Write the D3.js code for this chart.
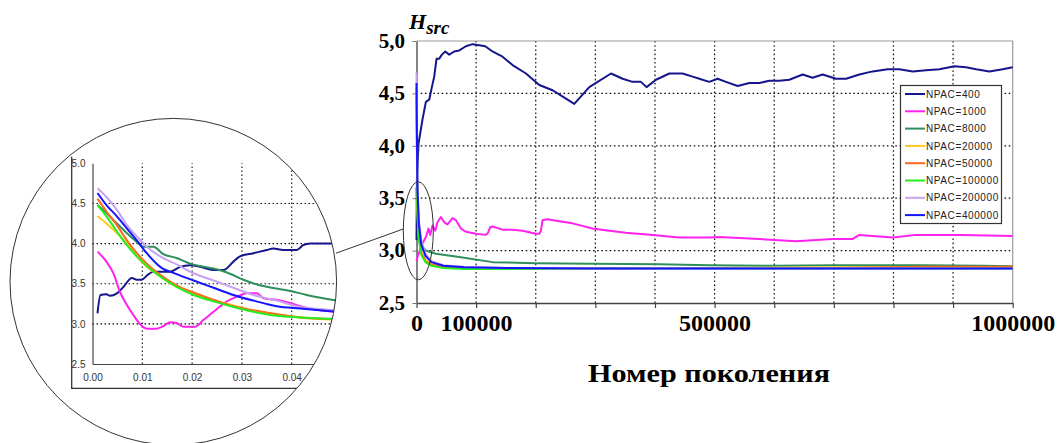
<!DOCTYPE html>
<html><head><meta charset="utf-8">
<script src="https://cdn.jsdelivr.net/npm/d3@7"></script>
<style>body{margin:0;background:#fff;} svg{display:block;}
.ser{font-family:"Liberation Serif","Times New Roman",Times,serif;}
.san{font-family:"Liberation Sans",Arial,Helvetica,sans-serif;}
</style>
</head><body>
<svg id="c" width="1058" height="443"></svg>
<script>
// ---------------- DATA ----------------
const seriesNames = ["NPAC=400","NPAC=1000","NPAC=8000","NPAC=20000","NPAC=50000","NPAC=100000","NPAC=200000","NPAC=400000"];
const yTickValues = [2.5, 3.0, 3.5, 4.0, 4.5, 5.0];
const xTickValues = [0,100000,200000,300000,400000,500000,600000,700000,800000,900000,1000000];
const xLabelValues = [0, 100000, 500000, 1000000];
const xTitle = "Номер поколения";

// main chart (generation number → H_src)
const npac400X = [0,800,3400,10000,15800,21300,25800,29700,33600,38100,42600,48200,54900,63300,71700,82900,94000,105200,115300,127500,144300,161100,183600,205900,228200,250700,264600,289800,326200,345700,362400,376500,385900,401700,424000,446300,463100,474400,491100,505000,519100,538600,558200,575000,591800,608600,625300,647700,664400,681200,703700,720500,742800,765100,790300,809900,832200,854700,877000,902200,921800,938600,960900,983200,1000000];
const npac400Y = [3.10,3.70,4.02,4.25,4.42,4.44,4.56,4.66,4.83,4.83,4.87,4.90,4.87,4.90,4.91,4.95,4.97,4.96,4.95,4.90,4.85,4.77,4.69,4.58,4.53,4.45,4.40,4.56,4.69,4.64,4.61,4.61,4.56,4.63,4.69,4.69,4.66,4.64,4.61,4.64,4.61,4.57,4.60,4.60,4.62,4.62,4.63,4.68,4.65,4.68,4.64,4.64,4.68,4.71,4.73,4.73,4.71,4.72,4.73,4.76,4.75,4.73,4.71,4.73,4.75];
const npac1000X = [0,1700,10100,15800,20100,23000,26900,31400,35200,40900,46500,52000,60400,66100,74500,82900,99700,116400,120000,123200,127500,144300,161100,177900,200300,206000,208700,211400,219800,239400,261700,295300,323300,351300,396000,440800,491100,507900,575000,636600,698000,731000,742800,798700,838000,915000,1000000];
const npac1000Y = [2.90,2.94,3.07,3.13,3.21,3.15,3.24,3.19,3.27,3.32,3.27,3.25,3.31,3.29,3.21,3.18,3.16,3.15,3.17,3.22,3.23,3.20,3.20,3.19,3.16,3.16,3.19,3.29,3.30,3.28,3.26,3.21,3.19,3.17,3.15,3.125,3.125,3.13,3.11,3.09,3.11,3.11,3.15,3.125,3.15,3.15,3.14];
const npac8000X = [0,1500,4500,9000,15800,32500,71700,127500,200300,295300,407200,491100,600000,700000,850000,950000,1000000];
const npac8000Y = [3.60,3.30,3.10,3.04,3.00,2.97,2.94,2.89,2.88,2.875,2.87,2.86,2.855,2.86,2.86,2.855,2.85];
const genX = [0,1500,4000,8000,15000,25000,45000,80000,150000,300000,500000,700000,850000,1000000];
const npac20000Y  = [4.30,3.40,3.12,2.98,2.91,2.87,2.85,2.84,2.835,2.835,2.835,2.84,2.84,2.84];
const npac50000Y  = [4.55,3.45,3.14,2.98,2.90,2.865,2.845,2.835,2.83,2.83,2.835,2.835,2.845,2.845];
const npac100000Y = [4.45,3.40,3.10,2.96,2.89,2.855,2.835,2.825,2.825,2.83,2.83,2.83,2.83,2.83];
const npac200000Y = [4.70,3.65,3.30,3.09,2.97,2.90,2.86,2.845,2.835,2.83,2.83,2.83,2.83,2.83];
const npac400000Y = [4.60,3.60,3.25,3.06,2.95,2.89,2.855,2.84,2.835,2.83,2.83,2.83,2.83,2.83];

// inset (zoom of the start)
const insetXTicks = [0.00, 0.01, 0.02, 0.03, 0.04, 0.05];
const insetYTicks = [2.5, 3.0, 3.5, 4.0, 4.5, 5.0];
const in400X = [0.0010,0.0016,0.0028,0.0035,0.0049,0.0062,0.0079,0.0089,0.0099,0.0109,0.0122,0.0136,0.0156,0.0176,0.0196,0.0216,0.0243,0.0263,0.0283,0.0296,0.0323,0.0350,0.0363,0.0383,0.0410,0.0423,0.0437,0.0490];
const in400Y = [3.13,3.36,3.37,3.35,3.38,3.46,3.57,3.55,3.55,3.60,3.65,3.65,3.65,3.71,3.73,3.71,3.67,3.67,3.775,3.84,3.88,3.92,3.94,3.92,3.92,3.98,4.00,4.00];
const in1000X = [0.0010,0.0028,0.0042,0.0055,0.0069,0.0082,0.0095,0.0102,0.0109,0.0129,0.0142,0.0156,0.0169,0.0182,0.0206,0.0223,0.0243,0.0270,0.0290,0.0310,0.0330,0.0343,0.0370,0.0397,0.0423,0.0457,0.0490];
const in1000Y = [3.90,3.775,3.63,3.40,3.235,3.11,3.00,2.96,2.94,2.94,2.97,3.02,3.01,2.965,2.965,3.05,3.15,3.28,3.34,3.38,3.38,3.32,3.30,3.26,3.21,3.17,3.15];
const in8000X = [0.0010,0.0028,0.0049,0.0069,0.0089,0.0102,0.0122,0.0142,0.0169,0.0196,0.0216,0.0243,0.0270,0.0303,0.0336,0.0370,0.0397,0.0430,0.0490];
const in8000Y = [4.48,4.38,4.25,4.13,4.02,3.96,3.96,3.87,3.82,3.75,3.72,3.69,3.64,3.55,3.48,3.44,3.41,3.36,3.29];
const inGridX = [0.0010,0.0028,0.0049,0.0069,0.0089,0.0109,0.0136,0.0169,0.0203,0.0243,0.0283,0.0323,0.0370,0.0417,0.0490];
const in20000Y  = [4.34,4.25,4.13,4.00,3.84,3.71,3.59,3.46,3.37,3.29,3.23,3.16,3.12,3.08,3.05];
const in50000Y  = [4.56,4.40,4.23,4.04,3.88,3.75,3.61,3.48,3.39,3.30,3.22,3.17,3.12,3.08,3.06];
const in100000Y = [4.48,4.34,4.15,3.98,3.84,3.72,3.59,3.46,3.36,3.28,3.21,3.15,3.10,3.08,3.06];
const in200000Y = [4.69,4.58,4.42,4.23,4.09,3.96,3.84,3.74,3.63,3.54,3.45,3.36,3.29,3.21,3.17];
const in400000Y = [4.63,4.48,4.34,4.19,4.04,3.88,3.71,3.62,3.54,3.45,3.36,3.29,3.22,3.19,3.15];

// ---------------- STYLE ----------------
const colors = ["#15158c","#ff22ee","#2f8f5a","#ffc81e","#ff6a1a","#22ee22","#c8a2f0","#1414ff"];

const zip = (xs, ys) => xs.map((v, i) => [v, ys[i]]);
const mainSeries = [
  zip(npac400X, npac400Y), zip(npac1000X, npac1000Y), zip(npac8000X, npac8000Y),
  zip(genX, npac20000Y), zip(genX, npac50000Y), zip(genX, npac100000Y),
  zip(genX, npac200000Y), zip(genX, npac400000Y)
];
const insetSeries = [
  zip(in400X, in400Y), zip(in1000X, in1000Y), zip(in8000X, in8000Y),
  zip(inGridX, in20000Y), zip(inGridX, in50000Y), zip(inGridX, in100000Y),
  zip(inGridX, in200000Y), zip(inGridX, in400000Y)
];

const svg = d3.select("#c");
svg.append("rect").attr("width",1058).attr("height",443).attr("fill","#fff");

// ---------------- MAIN CHART ----------------
const x = d3.scaleLinear().domain([0, 1000000]).range([416.5, 1012.7]);
const y = d3.scaleLinear().domain([2.5, 5.0]).range([303, 41]);
const g = svg.append("g");

// grid
g.selectAll(".vg").data(xTickValues.filter(v => v > 0 && v < 1000000)).join("line")
  .attr("x1", d => x(d)).attr("x2", d => x(d)).attr("y1", y(2.5)).attr("y2", y(5))
  .attr("stroke", "#111").attr("stroke-width", 1.2).attr("stroke-dasharray", "1.6,2.6");
g.selectAll(".hg").data(yTickValues.filter(v => v > 2.5 && v < 5)).join("line")
  .attr("x1", x(0)).attr("x2", x(1000000)).attr("y1", d => y(d)).attr("y2", d => y(d))
  .attr("stroke", "#111").attr("stroke-width", 1.2).attr("stroke-dasharray", "1.6,2.6");
// border top/right
g.append("path").attr("d", `M${x(0)},${y(5)}H${x(1000000)}V${y(2.5)}`)
  .attr("fill","none").attr("stroke","#999").attr("stroke-width",1.2);

// axes
const xAxis = d3.axisBottom(x).tickValues(xTickValues).tickSize(5).tickSizeOuter(0)
  .tickFormat(d => xLabelValues.includes(d) ? String(d) : "");
const xa = g.append("g").attr("transform", `translate(0,${y(2.5)})`).call(xAxis);
xa.attr("font-family", null);
xa.select(".domain").attr("stroke","#444").attr("stroke-width",1.5);
xa.selectAll(".tick line").attr("stroke","#444").attr("stroke-width",1.2);
xa.selectAll(".tick text").attr("class","ser").attr("fill","#000").attr("font-weight","bold")
  .attr("font-size",24).attr("y",11).attr("dy","0.71em");

const yAxis = d3.axisLeft(y).tickValues(yTickValues).tickSize(4).tickSizeOuter(0)
  .tickFormat(d => d.toFixed(1).replace(".", ","));
const ya = g.append("g").attr("transform", `translate(${x(0)},0)`).call(yAxis);
ya.attr("font-family", null);
ya.select(".domain").attr("stroke","#777").attr("stroke-width",1.8);
ya.selectAll(".tick line").attr("stroke","#777");
ya.selectAll(".tick text").attr("class","ser").attr("fill","#000").attr("font-weight","bold")
  .attr("font-size",21).attr("x",-11.5).attr("dy","0.3em");

// series
const line = d3.line().x(d => x(d[0])).y(d => y(d[1]));
g.selectAll(".s").data(mainSeries).join("path")
  .attr("d", line).attr("fill","none").attr("stroke", (d,i) => colors[i])
  .attr("stroke-width", 2).attr("stroke-linejoin","round");

// y title H_src
const ht = svg.append("text").attr("class","ser").attr("x", 409).attr("y", 29)
  .attr("font-weight","bold").attr("font-style","italic");
ht.append("tspan").attr("font-size", 22).text("H");
ht.append("tspan").attr("font-size", 19).attr("dy", 5).text("src");

// x title
svg.append("text").attr("class","ser").attr("x", 709).attr("y", 382).attr("text-anchor","middle")
  .attr("font-weight","bold").attr("font-size", 25)
  .attr("textLength", 242).attr("lengthAdjust","spacingAndGlyphs").text(xTitle);

// legend
const lg = svg.append("g");
lg.append("rect").attr("x", 900.5).attr("y", 85.5).attr("width", 101).attr("height", 138)
  .attr("fill","#fff").attr("stroke","#333").attr("stroke-width",1.2);
seriesNames.forEach((name, i) => {
  const yy = 94 + i * 17.3;
  lg.append("line").attr("x1", 905).attr("x2", 925).attr("y1", yy).attr("y2", yy)
    .attr("stroke", colors[i]).attr("stroke-width", 2);
  lg.append("text").attr("class","san").attr("x", 926).attr("y", yy + 3.6)
    .attr("font-size", 10).attr("letter-spacing", 0.6).attr("fill","#222").text(name);
});

// ellipse marking zoom region + connector
svg.append("ellipse").attr("cx", 418.3).attr("cy", 230.8).attr("rx", 15).attr("ry", 49)
  .attr("fill","none").attr("stroke","#333").attr("stroke-width",1);
svg.append("line").attr("x1", 336).attr("y1", 253.2).attr("x2", 403.3).attr("y2", 229)
  .attr("stroke","#333").attr("stroke-width",1);

// ---------------- INSET ----------------
const cx = 173.3, cy = 281.7, r = 163.3;
svg.append("defs").append("clipPath").attr("id","cc")
  .append("circle").attr("cx",cx).attr("cy",cy).attr("r",r);
const ig = svg.append("g").attr("clip-path","url(#cc)");
ig.append("circle").attr("cx",cx).attr("cy",cy).attr("r",r).attr("fill","#fff");
const xi = d3.scaleLinear().domain([0, 0.05]).range([92.5, 341.5]);
const yi = d3.scaleLinear().domain([2.5, 5.0]).range([364, 163.3]);

// outer chart-area frame (left + bottom)
ig.append("path").attr("d", `M71.7,156.7V388.3H400`).attr("fill","none")
  .attr("stroke","#333").attr("stroke-width",1.3);

ig.selectAll(".ivg").data(insetXTicks.filter(v => v > 0)).join("line")
  .attr("x1", d => xi(d)).attr("x2", d => xi(d)).attr("y1", yi(2.5)).attr("y2", yi(5))
  .attr("stroke","#111").attr("stroke-width",1.1).attr("stroke-dasharray","1.6,2.4");
ig.selectAll(".ihg").data(insetYTicks.filter(v => v > 2.5 && v < 5)).join("line")
  .attr("x1", xi(0)).attr("x2", xi(0.05)).attr("y1", d => yi(d)).attr("y2", d => yi(d))
  .attr("stroke","#111").attr("stroke-width",1.1).attr("stroke-dasharray","1.6,2.4");

const ixa = ig.append("g").attr("transform", `translate(0,${yi(2.5)})`)
  .call(d3.axisBottom(xi).tickValues(insetXTicks).tickSize(0).tickPadding(10).tickFormat(d3.format(".2f")));
ixa.attr("font-family", null);
ixa.select(".domain").attr("stroke","#444").attr("stroke-width",1.2);
ixa.selectAll("text").attr("class","san").attr("font-size",10).attr("fill","#333");
const iya = ig.append("g").attr("transform", `translate(${xi(0)},0)`)
  .call(d3.axisLeft(yi).tickValues(insetYTicks).tickSize(0).tickPadding(7).tickFormat(d3.format(".1f")));
iya.attr("font-family", null);
iya.select(".domain").attr("stroke","#444").attr("stroke-width",1.2);
iya.selectAll("text").attr("class","san").attr("font-size",10).attr("fill","#333");

const iline = d3.line().x(d => xi(d[0])).y(d => yi(d[1])).curve(d3.curveMonotoneX);
ig.selectAll(".is").data(insetSeries).join("path")
  .attr("d", iline).attr("fill","none").attr("stroke", (d,i) => colors[i])
  .attr("stroke-width", 2).attr("stroke-linejoin","round");

svg.append("circle").attr("cx",cx).attr("cy",cy).attr("r",r)
  .attr("fill","none").attr("stroke","#333").attr("stroke-width",1);
</script>
</body></html>
